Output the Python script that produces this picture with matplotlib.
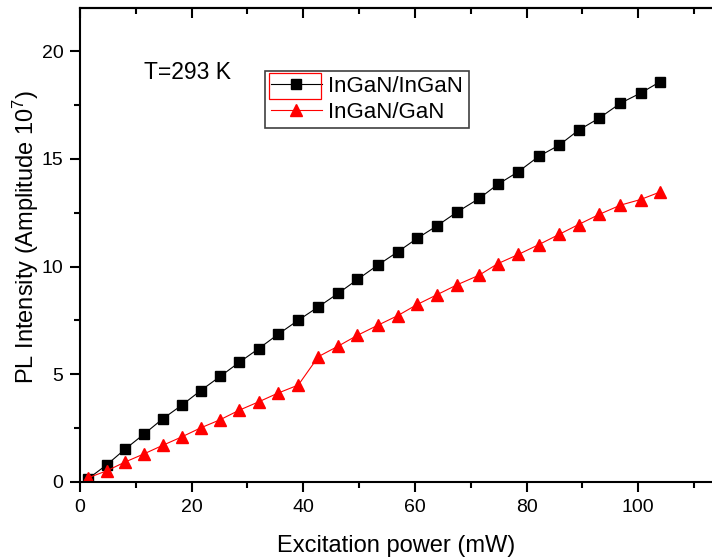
import matplotlib
matplotlib.use('Agg')
import matplotlib.pyplot as plt
from matplotlib.ticker import MultipleLocator
from matplotlib.patches import Rectangle

# Data
power = [1.4, 4.8, 8.1, 11.5, 14.8, 18.2, 21.6, 25.1, 28.5, 32.0,
         35.5, 39.1, 42.7, 46.2, 49.7, 53.3, 56.9, 60.4, 64.0, 67.6,
         71.5, 74.8, 78.5, 82.2, 85.8, 89.3, 93.0, 96.8, 100.4, 103.8]
ingan_ingan = [0.14, 0.80, 1.53, 2.23, 2.93, 3.56, 4.24, 4.90, 5.55, 6.19,
               6.86, 7.51, 8.13, 8.75, 9.40, 10.06, 10.68, 11.31, 11.90, 12.54,
               13.16, 13.81, 14.40, 15.12, 15.63, 16.33, 16.89, 17.58, 18.05, 18.56]
ingan_gan = [0.19, 0.52, 0.93, 1.31, 1.70, 2.09, 2.51, 2.89, 3.33, 3.72,
             4.13, 4.50, 5.82, 6.30, 6.81, 7.27, 7.72, 8.24, 8.70, 9.16,
             9.60, 10.13, 10.56, 11.02, 11.49, 11.95, 12.42, 12.85, 13.11, 13.45]
series_labels = ['InGaN/InGaN', 'InGaN/GaN']
x_label = 'Excitation power (mW)'
y_label = 'PL Intensity (Amplitude 10$^{7}$)'
annotation = 'T=293 K'

plt.rcParams['font.family'] = ['Liberation Sans', 'DejaVu Sans']
plt.rcParams['mathtext.default'] = 'regular'

W, H = 712, 558
fig = plt.figure(figsize=(W / 100, H / 100), dpi=100)
ax = fig.add_axes([80 / W, 76 / H, 632 / W, 474 / H])

ax.plot(power, ingan_ingan, color='black', marker='s', ms=7.3, lw=0.8,
        label=series_labels[0])
ax.plot(power, ingan_gan, color='red', marker='^', ms=8.5, lw=0.8,
        label=series_labels[1])

ax.set_xlim(0, 113.2)
ax.set_ylim(0, 22)

for s in ['left', 'bottom', 'top']:
    ax.spines[s].set_linewidth(1.5)
ax.spines['right'].set_visible(False)

ax.xaxis.set_major_locator(MultipleLocator(20))
ax.xaxis.set_minor_locator(MultipleLocator(10))
ax.yaxis.set_major_locator(MultipleLocator(5))
ax.yaxis.set_minor_locator(MultipleLocator(2.5))
ax.tick_params(which='both', direction='out', width=1.5, top=False, right=False,
               labelsize=14, pad=4.5)
ax.tick_params(which='major', length=7.5)
ax.tick_params(which='minor', length=4.5)

# top axis: inward ticks, no labels
sec = ax.secondary_xaxis('top')
sec.xaxis.set_major_locator(MultipleLocator(20))
sec.xaxis.set_minor_locator(MultipleLocator(10))
sec.tick_params(which='both', direction='in', width=1.5, labeltop=False)
sec.tick_params(which='major', length=7.5)
sec.tick_params(which='minor', length=4.5)
sec.spines['top'].set_linewidth(1.5)

ax.set_xlabel(x_label, fontsize=17, labelpad=14)
ax.set_ylabel(y_label, fontsize=17)
ax.yaxis.set_label_coords((41 - 80) / 632, (482 - 237) / 474)

ax.text(0.1013, 0.8635, annotation, transform=ax.transAxes, fontsize=16.5,
        ha='left', va='center')

leg = ax.legend(loc='upper left', bbox_to_anchor=(0.2927, 0.8677),
                borderaxespad=0, fancybox=False, framealpha=1,
                edgecolor='#404040', fontsize=16, handlelength=2.3,
                handletextpad=0.3, borderpad=0.25, labelspacing=0.2)
leg.get_frame().set_linewidth(1.2)

# red selection box around first legend handle
fig.add_artist(Rectangle((269 / W, (H - 99) / H), 51.7 / W, 26 / H,
                         transform=fig.transFigure, fill=False,
                         edgecolor='red', lw=0.9, zorder=10))

fig.savefig('out.png', dpi=100)
